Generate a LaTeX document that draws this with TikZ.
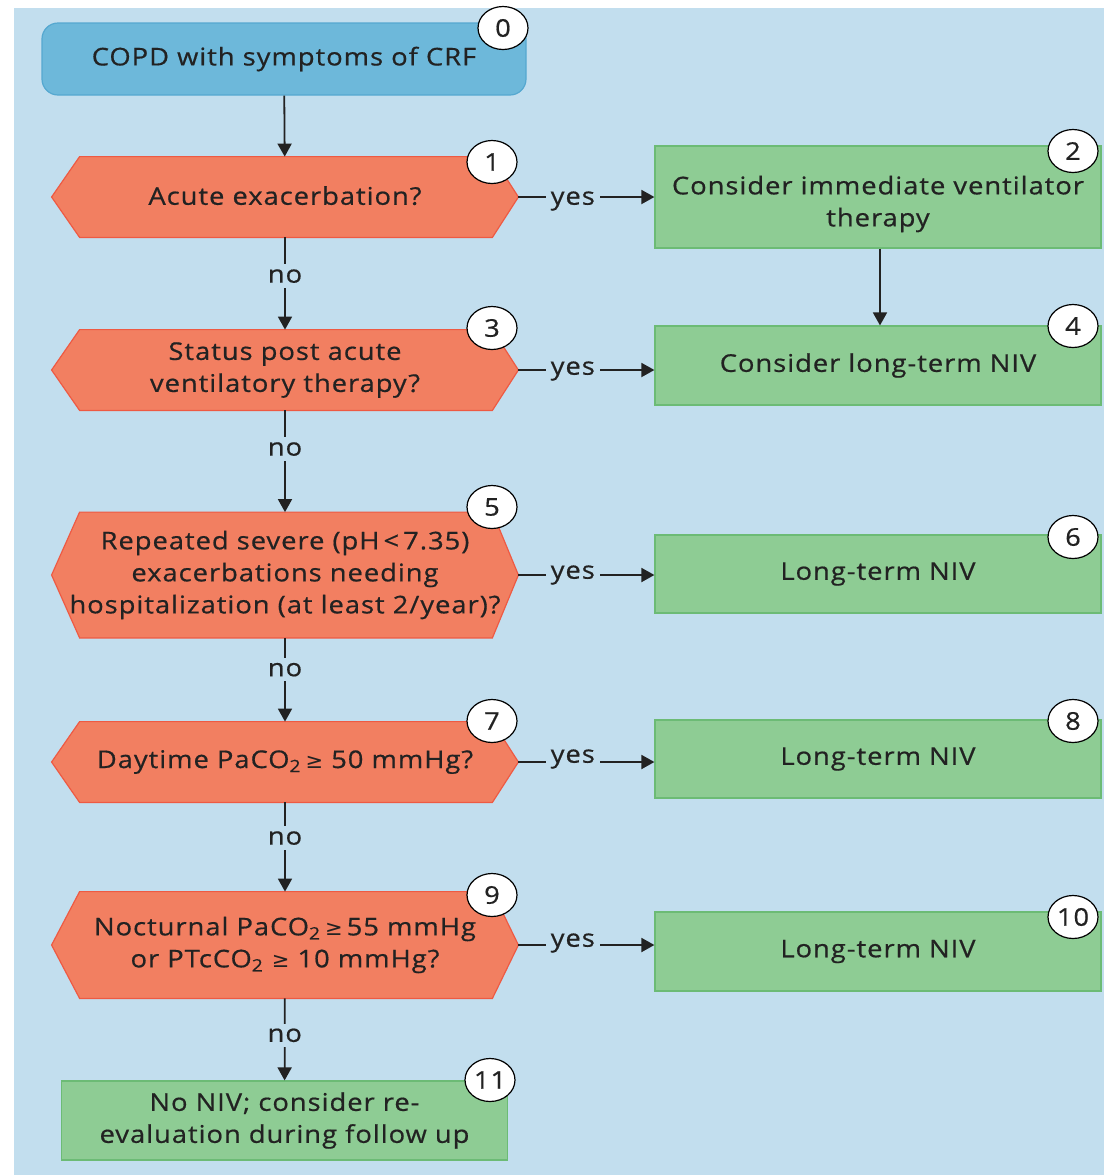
\documentclass[tikz,border=0pt]{standalone}
\usepackage{fontspec}
\setmainfont{Open Sans}[FakeStretch=1.12, LetterSpace=4, FakeBold=0.6]
\newfontfamily\symfont{DejaVu Sans}
\usetikzlibrary{arrows.meta,shapes.geometric,backgrounds}

\definecolor{panel}{HTML}{C2DEEE}
\definecolor{startfill}{HTML}{6DB8DA}
\definecolor{startline}{HTML}{55A8D0}
\definecolor{hexfill}{HTML}{F27F61}
\definecolor{hexline}{HTML}{EE5A43}
\definecolor{okfill}{HTML}{8ECC94}
\definecolor{okline}{HTML}{6CBB75}
\definecolor{ink}{HTML}{222222}

\newcommand\geSign{{\symfont\fontsize{10.5}{12}\selectfont ≥}}
\newcommand\subtwo{\textsubscript{2}}

\tikzset{
  base/.style={font=\fontsize{12.2}{16}\selectfont, text=ink, align=center, inner sep=0pt},
  startbox/.style={base, rectangle, rounded corners=8pt, fill=startfill, draw=startline, line width=0.6pt,
                   minimum width=242pt, minimum height=36pt},
  question/.style={base, rectangle, minimum width=233pt, minimum height=#1},
  question/.default=40pt,
  action/.style={base, rectangle, fill=okfill, draw=okline, line width=0.6pt,
                 minimum width=223pt, minimum height=#1},
  action/.default=39.5pt,
  hexshape/.style={fill=hexfill, draw=hexline, line width=0.6pt},
  badge/.style={base, ellipse, fill=white, draw=black, line width=0.6pt,
                minimum width=25pt, minimum height=21.5pt},
  conn/.style={draw=ink, line width=0.9pt, -{Triangle[length=6.5pt,width=7pt]}},
  lbl/.style={base, fill=panel, inner sep=2.5pt},
}

\begin{document}
\begin{tikzpicture}[x=0.5pt, y=-0.5pt]
  \useasboundingbox (0,0) rectangle (1104,1175);

  % decision column
  \node[startbox] (n0) at (284,59) {COPD with symptoms of CRF};
  \node[question] (q1) at (285,197) {\raisebox{1.5pt}{Acute exacerbation?}};
  \node[question] (q3) at (285,370) {Status post acute\\ventilatory therapy?};
  \node[question=62.5pt] (q5) at (285,575) {Repeated severe (pH\,<\,7.35)\\exacerbations needing\\hospitalization (at least 2/year)?};
  \node[question] (q7) at (285,762) {Daytime PaCO\subtwo\,\geSign\ 50 mmHg?};
  \node[question=53pt] (q9) at (285,945) {Nocturnal PaCO\subtwo\,\geSign\,55 mmHg\\or PTcCO\subtwo\ \geSign\ 10 mmHg?};
  \node[action=39.5pt] (b11) at (284.5,1120.5) {No NIV; consider re-\\evaluation during follow up};

  % outcome column
  \node[action=51pt] (b2) at (878,197) {};
  \node[base] (b2text) at ([yshift=-3.5pt]b2.center) {Consider immediate ventilator\\therapy};
  \node[action] (b4) at (878,365.5) {Consider long-term NIV};
  \node[action=39pt] (b6) at (878,574) {Long-term NIV};
  \node[action=39pt] (b8) at (878,759) {Long-term NIV};
  \node[action] (b10) at (878,951.5) {Long-term NIV};

  % panel and hexagonal decision outlines
  \begin{scope}[on background layer]
    \fill[panel] (14,8) rectangle (1104,1175);
    \foreach \q in {q1,q3,q5,q7,q9} {
      \filldraw[hexshape] (\q.west) -- ([xshift=14pt]\q.north west) -- ([xshift=-13pt]\q.north east)
        -- (\q.east) -- ([xshift=-13pt]\q.south east) -- ([xshift=14pt]\q.south west) -- cycle;
    }
  \end{scope}

  % connectors
  \draw[conn] (n0) -- (q1);
  \draw[conn] (q1) -- node[lbl, pos=0.42]{no} (q3);
  \draw[conn] (q3) -- node[lbl, pos=0.38]{no} (q5);
  \draw[conn] (q5) -- node[lbl, pos=0.38]{no} (q7);
  \draw[conn] (q7) -- node[lbl, pos=0.4]{no} (q9);
  \draw[conn] (q9) -- node[lbl, pos=0.45]{no} (b11);
  \draw[conn] ([xshift=1pt]b2.south) -- ([xshift=1pt]b4.north);
  \draw[conn] (q1.east) -- node[lbl, pos=0.4, yshift=-2pt]{yes} (q1.east -| b2.west);
  \draw[conn] (q3.east) -- node[lbl, pos=0.4, yshift=-0.5pt]{yes} (q3.east -| b4.west);
  \draw[conn] (q5.east) -- node[lbl, pos=0.4]{yes} (q5.east -| b6.west);
  \draw[conn] (q7.east) -- node[lbl, pos=0.4, yshift=1.5pt]{yes} (q7.east -| b8.west);
  \draw[conn] (q9.east) -- node[lbl, pos=0.4, yshift=1pt]{yes} (q9.east -| b10.west);

  % step numbers
  \node[badge] (c0) at (503,28) {0};
  \node[badge] (c1) at (492,162) {1};
  \node[badge] (c2) at (1073,151) {2};
  \node[badge] (c3) at (492,328) {3};
  \node[badge] (c4) at (1073,326) {4};
  \node[badge] (c5) at (492,507) {5};
  \node[badge] (c6) at (1073,537) {6};
  \node[badge] (c7) at (492,721) {7};
  \node[badge] (c8) at (1073,721) {8};
  \node[badge] (c9) at (492,895) {9};
  \node[badge] (c10) at (1073,917) {10};
  \node[badge] (c11) at (490,1080) {11};
\end{tikzpicture}
\end{document}
